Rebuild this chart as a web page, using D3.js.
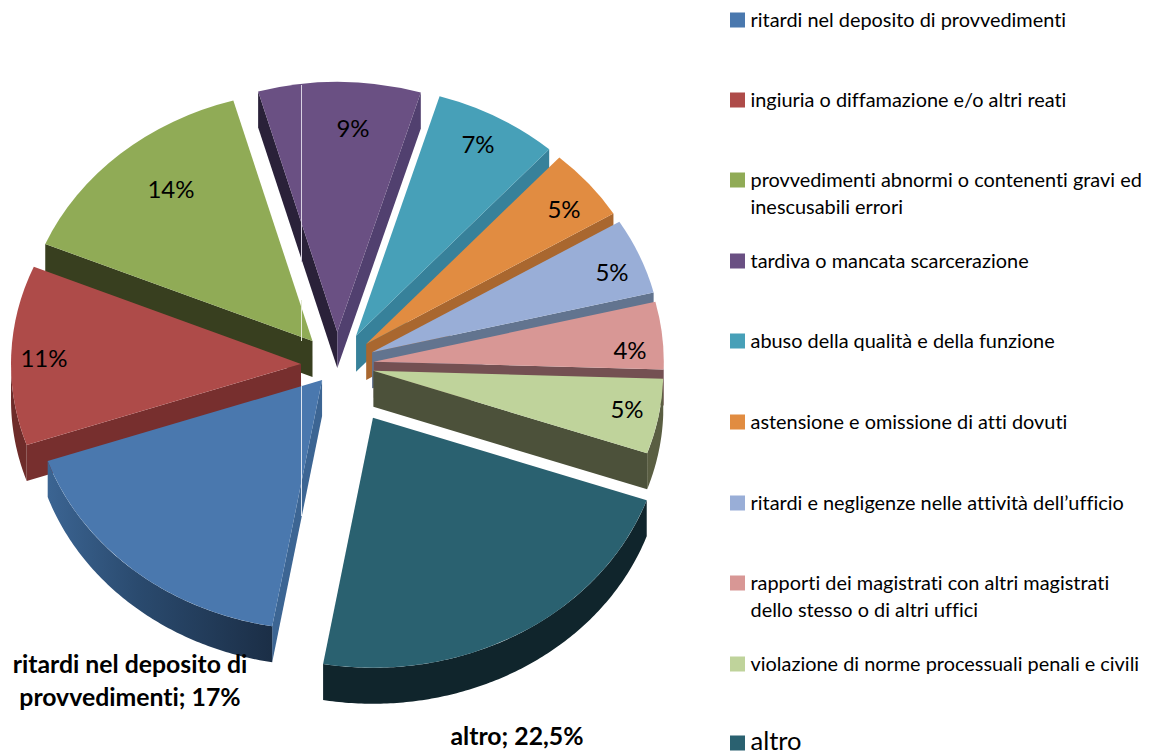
<!DOCTYPE html>
<html><head><meta charset="utf-8">
<script src="https://cdn.jsdelivr.net/npm/d3@7/dist/d3.min.js"></script>
<style>html,body{margin:0;padding:0;background:#fff;overflow:hidden}svg{display:block}text{font-family:Lato,"Open Sans",sans-serif;fill:#000;font-variant-ligatures:none}</style>
</head><body><svg id="c" width="1154" height="754"></svg>
<script>
const categories=["ritardi nel deposito di provvedimenti","ingiuria o diffamazione e/o altri reati","provvedimenti abnormi o contenenti gravi ed inescusabili errori","tardiva o mancata scarcerazione","abuso della qualità e della funzione","astensione e omissione di atti dovuti","ritardi e negligenze nelle attività dell’ufficio","rapporti dei magistrati con altri magistrati dello stesso o di altri uffici","violazione di norme processuali penali e civili","altro"];
const values=[17,11.6,14.25,9.05,6.95,4.65,4.9,4.35,4.85,22.4];
const valueLabels=["17%","11%","14%","9%","7%","5%","5%","4%","5%","22,5%"];
const topColors=["#4a78ae","#ae4b49","#90ab56","#6a5083","#47a0b8","#e18c41","#99aed7","#d89795","#bfd39b","#2a6170"];
const cutColors=["#3c6593","#772f2e","#383f1f","#2a2139","#37819a","#a9672f","#62748f","#745052","#4c513a","#10252c"];
const endCutColors=["#3c6593","#772f2e","#383f1f","#51406f","#37819a","#a9672f","#62748f","#745052","#4c513a","#10252c"];
const rimColors=["url(#blueRim)","#6e2c2a","#383f1f","#2a2139","#37819a","#a9672f","#62748f","#745052","#5a5e42","#10252c"];
const explosion=[23,36,37,38.3,39,38,38,37,37,71];
const legendLines=[["ritardi nel deposito di provvedimenti"],["ingiuria o diffamazione e/o altri reati"],["provvedimenti abnormi o contenenti gravi ed","inescusabili errori"],["tardiva o mancata scarcerazione"],["abuso della qualità e della funzione"],["astensione e omissione di atti dovuti"],["ritardi e negligenze nelle attività dell’ufficio"],["rapporti dei magistrati con altri magistrati","dello stesso o di altri uffici"],["violazione di norme processuali penali e civili"],["altro"]];

const RX=290,RY=250,DEPTH=36,CX=337,CY=365,TAU=2*Math.PI;
const START=189.9/360*TAU;
const svg=d3.select("#c");
const defs=svg.append("defs");
const g0=defs.append("linearGradient").attr("id","blueRim").attr("gradientUnits","userSpaceOnUse").attr("x1",-273).attr("x2",-49).attr("y1",0).attr("y2",0);
g0.append("stop").attr("offset",0).attr("stop-color","#3b6492");
g0.append("stop").attr("offset",.4).attr("stop-color","#2a4a6e");
g0.append("stop").attr("offset",1).attr("stop-color","#1b2e46");

const pie=d3.pie().sort(null).startAngle(START).endAngle(START+TAU);
const arcs=pie(values);
const px=a=>RX*Math.sin(a), py=a=>-RY*Math.cos(a);
const arcGen=d3.arc().innerRadius(0).outerRadius(RX);
const line=d3.line();
const rimArea=d3.area().x(a=>px(a)).y0(a=>py(a)).y1(a=>py(a)+DEPTH);
const drawOrder=[3,4,5,6,7,8,2,1,0,9];

const slices=svg.append("g").selectAll("g").data(drawOrder.map(i=>({...arcs[i],i}))).join("g")
 .attr("transform",d=>{const m=(d.startAngle+d.endAngle)/2,e=explosion[d.i];
   return `translate(${CX+e*Math.sin(m)},${CY-e*Math.cos(m)*RY/RX})`;});

slices.each(function(d){
  const s=d3.select(this),a0=d.startAngle,a1=d.endAngle;
  const face=(a,c)=>s.append("path").attr("fill",c).attr("d",line([[0,0],[px(a),py(a)],[px(a),py(a)+DEPTH],[0,DEPTH]])+"");
  if(px(a0)<0) face(a0,cutColors[d.i]);
  if(px(a1)>0) face(a1,endCutColors[d.i]);
  // rim: only the front half of the ellipse is seen (angles may run past one full turn)
  [0,TAU].forEach(turn=>{
    const lo=Math.max(a0,TAU/4+turn), hi=Math.min(a1,TAU*3/4+turn);
    if(hi>lo){
      const n=Math.ceil((hi-lo)*90);
      const pts=d3.range(n+1).map(k=>lo+(hi-lo)*k/n);
      s.append("path").attr("fill",rimColors[d.i]).attr("d",rimArea(pts));
    }
  });
  s.append("path").attr("fill",topColors[d.i]).attr("transform",`scale(1,${RY/RX})`).attr("d",arcGen(d));
});

// thin pale line crossing the pie
const seams=[[85,262,"#d9d2e2"],[300,341,"#e4ead4"],[385,516,"#dfe6f0"]];
svg.append("g").selectAll("line").data(seams).join("line").attr("x1",301.5).attr("x2",301.5)
 .attr("y1",d=>d[0]).attr("y2",d=>d[1]).attr("stroke",d=>d[2]).attr("stroke-width",1);

// data labels
const labelPos=[null,[44,359],[171,190],[353,129],[478,145],[564,210],[612,273],[630,351],[627,410],null];
svg.append("g").selectAll("text").data(valueLabels.map((t,i)=>({t,i})).filter(d=>labelPos[d.i])).join("text")
 .attr("x",d=>labelPos[d.i][0]).attr("y",d=>labelPos[d.i][1]+8).attr("text-anchor","middle").attr("font-size",24).text(d=>d.t);
const boldLabels=[["ritardi nel deposito di",130,673],["provvedimenti; 17%",130,706],["altro; 22,5%",517,745]];
svg.append("g").selectAll("text").data(boldLabels).join("text")
 .attr("x",d=>d[1]).attr("y",d=>d[2]).attr("text-anchor","middle").attr("font-size",24.8).attr("font-weight",700).text(d=>d[0]);

// legend
const legendY=[20,100,180,261,341,422,503,583,664,743];
const lg=svg.append("g").selectAll("g").data(categories).join("g").attr("transform",(d,i)=>`translate(730,${legendY[i]})`);
lg.append("rect").attr("x",0).attr("y",-7.5).attr("width",15).attr("height",15).attr("fill",(d,i)=>topColors[i]);
lg.each(function(d,i){
  d3.select(this).selectAll("text").data(legendLines[i]).join("text")
   .attr("x",20.5).attr("y",(t,k)=>6.5+k*27).attr("font-size",i===9?25.5:19.9).text(t=>t);
});
</script></body></html>
